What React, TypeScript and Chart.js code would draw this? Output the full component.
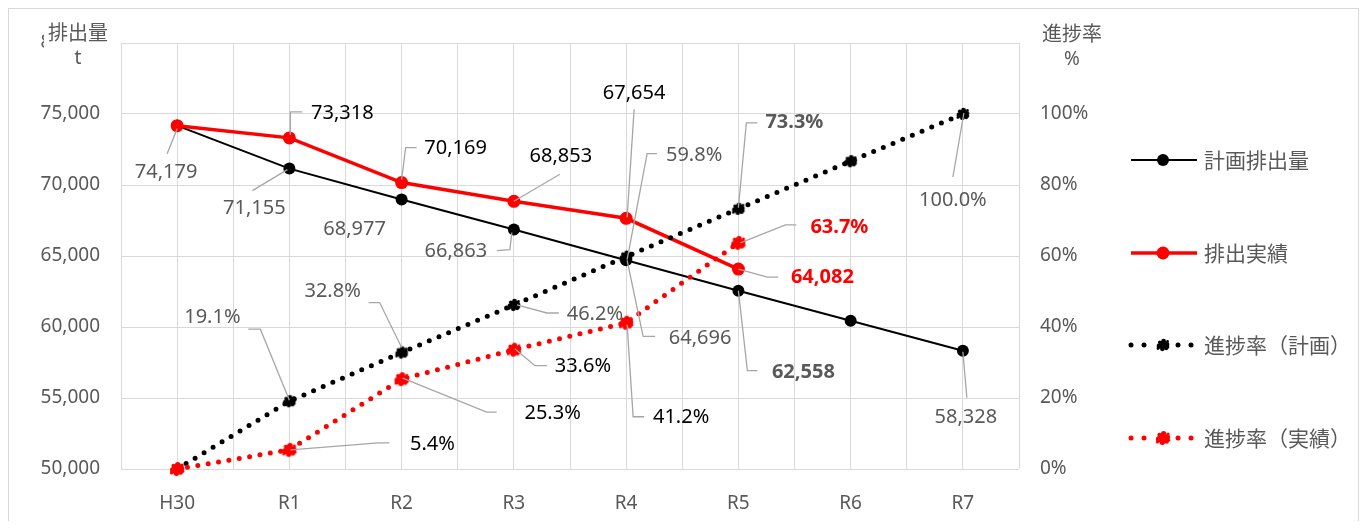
import React, { useEffect, useRef } from 'react';
import { Chart, registerables } from 'chart.js';

Chart.register(...registerables);

// ---------- data ----------
const categories = ['H30', 'R1', 'R2', 'R3', 'R4', 'R5', 'R6', 'R7'];
const planEmissions = [74179, 71155, 68977, 66863, 64696, 62558, 60443, 58328];
const actualEmissions = [74179, 73318, 70169, 68853, 67654, 64082];
const planProgress = [0, 19.1, 32.8, 46.2, 59.8, 73.3, 86.7, 100.0];
const actualProgress = [0, 5.4, 25.3, 33.6, 41.2, 63.7];
const seriesNames = ['計画排出量', '排出実績', '進捗率（計画）', '進捗率（実績）'];
const leftTitle = ['排出量', 't'];
const rightTitle = ['進捗率', '%'];

// ---------- styles ----------
const GRAY = '#595959';
const BLACK = '#000000';
const RED = '#ff0000';
const GRID = '#d9d9d9';
const LEADER = '#a6a6a6';
const NUM_FONT = "'Noto Sans', 'Noto Sans CJK JP', sans-serif";
const JP_FONT = "'Noto Sans CJK JP', 'Noto Sans', sans-serif";

type LabelSpec = { dx: number; dy: number; leader: [number, number][]; color: string; bold?: boolean } | null;

// label placement relative to each point (pixels)
const planLabelLayout: LabelSpec[] = [
  { dx: -11, dy: 47, leader: [[0, 3], [-10, 28]], color: GRAY },
  { dx: -35, dy: 40, leader: [[-2, 1], [-37, 22]], color: GRAY },
  { dx: -47, dy: 30, leader: [], color: GRAY },
  { dx: -58, dy: 22, leader: [[-2, 3], [-4, 20], [-17, 21]], color: GRAY },
  { dx: 74, dy: 78, leader: [[1, 0], [17, 76], [29, 76]], color: GRAY },
  { dx: 65, dy: 82, leader: [[0, 0], [9, 80], [19, 80]], color: GRAY, bold: true },
  null,
  { dx: 3, dy: 67, leader: [[0, 1], [4, 47]], color: GRAY },
];
const actualLabelLayout: LabelSpec[] = [
  null,
  { dx: 53, dy: -25, leader: [[1, -3], [1, -26], [13, -26]], color: BLACK },
  { dx: 54, dy: -34, leader: [[0, -3], [4, -35], [15, -35]], color: BLACK },
  { dx: 47, dy: -45, leader: [[0, 0], [46, -27]], color: BLACK },
  { dx: 8, dy: -125, leader: [[1, -1], [8, -109]], color: BLACK },
  { dx: 84, dy: 8, leader: [[0, 0], [29, 8], [40, 8]], color: RED, bold: true },
];
const planProgLabelLayout: LabelSpec[] = [
  null,
  { dx: -77, dy: -84, leader: [[0, -1], [-29, -72], [-41, -72]], color: GRAY },
  { dx: -69, dy: -61, leader: [[0, -5], [-22, -50], [-33, -50]], color: GRAY },
  { dx: 81, dy: 9, leader: [[3, 0], [33, 8], [45, 8]], color: GRAY },
  { dx: 68, dy: -101, leader: [[1, 3], [21, -103], [31, -103]], color: GRAY },
  { dx: 56, dy: -86, leader: [[0, -1], [8, -86], [19, -86]], color: GRAY, bold: true },
  null,
  { dx: -10, dy: 86, leader: [[1, -1], [-10, 63]], color: GRAY },
];
const actualProgLabelLayout: LabelSpec[] = [
  null,
  { dx: 143, dy: -6, leader: [[1, 0], [89, -7], [100, -7]], color: BLACK },
  { dx: 151, dy: 34, leader: [[1, -1], [85, 33], [95, 33]], color: BLACK },
  { dx: 69, dy: 17, leader: [[1, -1], [21, 16], [33, 16]], color: BLACK },
  { dx: 55, dy: 95, leader: [[1, 2], [7, 94], [18, 94]], color: BLACK },
  { dx: 101, dy: -16, leader: [[2, 0], [47, -18], [58, -18]], color: RED, bold: true },
];

const fmtNum = (v: number) => v.toLocaleString('en-US');
const fmtPct = (v: number) => v.toFixed(1) + '%';

function makeBlob(color: string, size: number): HTMLCanvasElement {
  const c = document.createElement('canvas');
  c.width = size;
  c.height = size;
  const g = c.getContext('2d')!;
  g.fillStyle = color;
  const s = size / 16;
  const dots: [number, number, number][] = [
    [8, 8, 3.8], [4.4, 9, 2.7], [11.6, 7.4, 2.7], [8.6, 4.2, 2.4], [7.4, 11.8, 2.4],
    [11.2, 11.2, 2.0], [4.8, 5.2, 1.8], [12.8, 10, 1.6], [3, 11.5, 1.4], [12.5, 4.5, 1.4],
  ];
  for (const [x, y, r] of dots) {
    g.beginPath();
    g.arc(x * s, y * s, r * s, 0, Math.PI * 2);
    g.fill();
  }
  return c;
}

const CANVAS_W = 1349;
const CANVAS_H = 512;

export default function App() {
  const ref = useRef<HTMLCanvasElement | null>(null);

  useEffect(() => {
    if (!ref.current) return;
    const blackBlob = makeBlob(BLACK, 16);
    const redBlob = makeBlob(RED, 18);

    const overlay = {
      id: 'overlay',
      afterDraw(chart: any) {
        const ctx: CanvasRenderingContext2D = chart.ctx;
        const area = chart.chartArea;
        const specs = [planLabelLayout, actualLabelLayout, planProgLabelLayout, actualProgLabelLayout];
        const values = [planEmissions, actualEmissions, planProgress, actualProgress];
        const fmts = [fmtNum, fmtNum, fmtPct, fmtPct];
        ctx.save();
        specs.forEach((arr, di) => {
          const meta = chart.getDatasetMeta(di);
          arr.forEach((sp, j) => {
            if (!sp) return;
            const el = meta.data[j];
            if (!el) return;
            const x = el.x;
            const y = el.y;
            if (sp.leader.length > 1) {
              ctx.beginPath();
              ctx.strokeStyle = LEADER;
              ctx.lineWidth = 1.3;
              sp.leader.forEach(([lx, ly], k) => {
                if (k === 0) ctx.moveTo(x + lx, y + ly);
                else ctx.lineTo(x + lx, y + ly);
              });
              ctx.stroke();
            }
            ctx.font = `${sp.bold ? 'bold ' : ''}20px ${NUM_FONT}`;
            ctx.fillStyle = sp.color;
            ctx.textAlign = 'center';
            ctx.textBaseline = 'middle';
            ctx.fillText(fmts[di](values[di][j]), x + sp.dx, y + sp.dy);
          });
        });

        // axis titles (white boxes cover the topmost tick labels)
        ctx.fillStyle = '#ffffff';
        ctx.fillRect(area.left - 77, area.top - 29, 68, 58);
        ctx.fillRect(area.right + 17, area.top - 29, 74, 58);
        ctx.fillStyle = GRAY;
        ctx.textAlign = 'center';
        ctx.textBaseline = 'middle';
        ctx.font = `20px ${JP_FONT}`;
        ctx.fillText(leftTitle[0], area.left - 43, area.top - 11);
        ctx.fillText(rightTitle[0], area.right + 53, area.top - 10);
        ctx.font = `19px ${NUM_FONT}`;
        ctx.fillText(leftTitle[1], area.left - 43, area.top + 16);
        ctx.fillText(rightTitle[1], area.right + 53, area.top + 17);

        // legend
        const lx0 = area.right + 112;
        const lx1 = area.right + 178;
        const lxm = area.right + 144;
        const ys = [area.top + 117, area.top + 210, area.top + 302, area.top + 395];
        chart.data.datasets.forEach((ds: any, i: number) => {
          const y = ys[i];
          if (i < 2) {
            ctx.beginPath();
            ctx.strokeStyle = ds.borderColor;
            ctx.lineWidth = ds.borderWidth;
            ctx.moveTo(lx0, y);
            ctx.lineTo(lx1, y);
            ctx.stroke();
            ctx.beginPath();
            ctx.fillStyle = ds.pointBackgroundColor;
            ctx.arc(lxm, y, ds.pointRadius, 0, Math.PI * 2);
            ctx.fill();
          } else {
            ctx.fillStyle = ds.borderColor;
            [0, 13, 47, 60].forEach((dx) => {
              ctx.beginPath();
              ctx.arc(lx0 + dx, y, 2.5, 0, Math.PI * 2);
              ctx.fill();
            });
            const img = ds.pointStyle as HTMLCanvasElement;
            ctx.drawImage(img, lx0 + 32 - img.width / 2, y - img.height / 2);
          }
          ctx.fillStyle = GRAY;
          ctx.font = `21px ${JP_FONT}`;
          ctx.textAlign = 'left';
          ctx.textBaseline = 'middle';
          ctx.fillText(ds.label, area.right + 185, y);
        });
        ctx.restore();
      },
    };

    const toXY = (arr: number[]) => arr.map((v, i) => ({ x: i, y: v }));

    const chart = new Chart(ref.current, {
      type: 'line',
      data: {
        datasets: [
          {
            label: seriesNames[0],
            data: toXY(planEmissions),
            yAxisID: 'y',
            borderColor: BLACK,
            borderWidth: 2,
            pointRadius: 6,
            pointBackgroundColor: BLACK,
            pointBorderColor: BLACK,
            pointBorderWidth: 0,
            clip: false,
            order: 3,
          },
          {
            label: seriesNames[1],
            data: toXY(actualEmissions),
            yAxisID: 'y',
            borderColor: RED,
            borderWidth: 3.5,
            pointRadius: 6.5,
            pointBackgroundColor: RED,
            pointBorderColor: RED,
            pointBorderWidth: 0,
            clip: false,
            order: 2,
          },
          {
            label: seriesNames[2],
            data: toXY(planProgress),
            yAxisID: 'y1',
            borderColor: BLACK,
            borderWidth: 5,
            borderDash: [0, 10.5],
            borderCapStyle: 'round',
            pointStyle: blackBlob,
            pointRadius: 8,
            clip: false,
            order: 1,
          },
          {
            label: seriesNames[3],
            data: toXY(actualProgress),
            yAxisID: 'y1',
            borderColor: RED,
            borderWidth: 5,
            borderDash: [0, 10.5],
            borderCapStyle: 'round',
            pointStyle: redBlob,
            pointRadius: 9,
            clip: false,
            order: 0,
          },
        ] as any,
      },
      options: {
        animation: false,
        responsive: false,
        maintainAspectRatio: false,
        layout: { padding: { top: 34, left: 0, right: 0, bottom: 0 } },
        plugins: { legend: { display: false }, tooltip: { enabled: false } },
        scales: {
          x: {
            type: 'linear',
            min: -0.5,
            max: 7.5,
            afterFit: (s: any) => {
              s.height = 52;
            },
            ticks: {
              stepSize: 0.5,
              autoSkip: false,
              maxRotation: 0,
              padding: 23,
              color: GRAY,
              font: { family: NUM_FONT, size: 19 },
              callback: (v: any) => (Number.isInteger(v) ? categories[v] ?? '' : ''),
            },
            grid: { color: GRID, lineWidth: 1, drawTicks: false },
            border: { display: false },
          },
          y: {
            position: 'left',
            min: 50000,
            max: 80000,
            afterFit: (s: any) => {
              s.width = 112;
            },
            ticks: {
              stepSize: 5000,
              padding: 21,
              color: GRAY,
              font: { family: NUM_FONT, size: 19 },
              callback: (v: any) => Number(v).toLocaleString('en-US'),
            },
            grid: { color: GRID, lineWidth: 1, drawTicks: false },
            border: { display: false },
          },
          y1: {
            position: 'right',
            min: 0,
            max: 120,
            afterFit: (s: any) => {
              s.width = 339;
            },
            ticks: {
              stepSize: 20,
              padding: 21,
              color: GRAY,
              font: { family: NUM_FONT, size: 19 },
              callback: (v: any) => `${v}%`,
            },
            grid: { display: false, drawTicks: false },
            border: { display: false },
          },
        },
      } as any,
      plugins: [overlay],
    });

    return () => chart.destroy();
  }, []);

  return (
    <div
      style={{
        width: CANVAS_W,
        height: CANVAS_H,
        borderTop: `1px solid ${GRID}`,
        borderLeft: `1px solid ${GRID}`,
        borderRight: `1px solid ${GRID}`,
        background: '#ffffff',
      }}
    >
      <canvas ref={ref} width={CANVAS_W} height={CANVAS_H} style={{ display: 'block' }} />
    </div>
  );
}
